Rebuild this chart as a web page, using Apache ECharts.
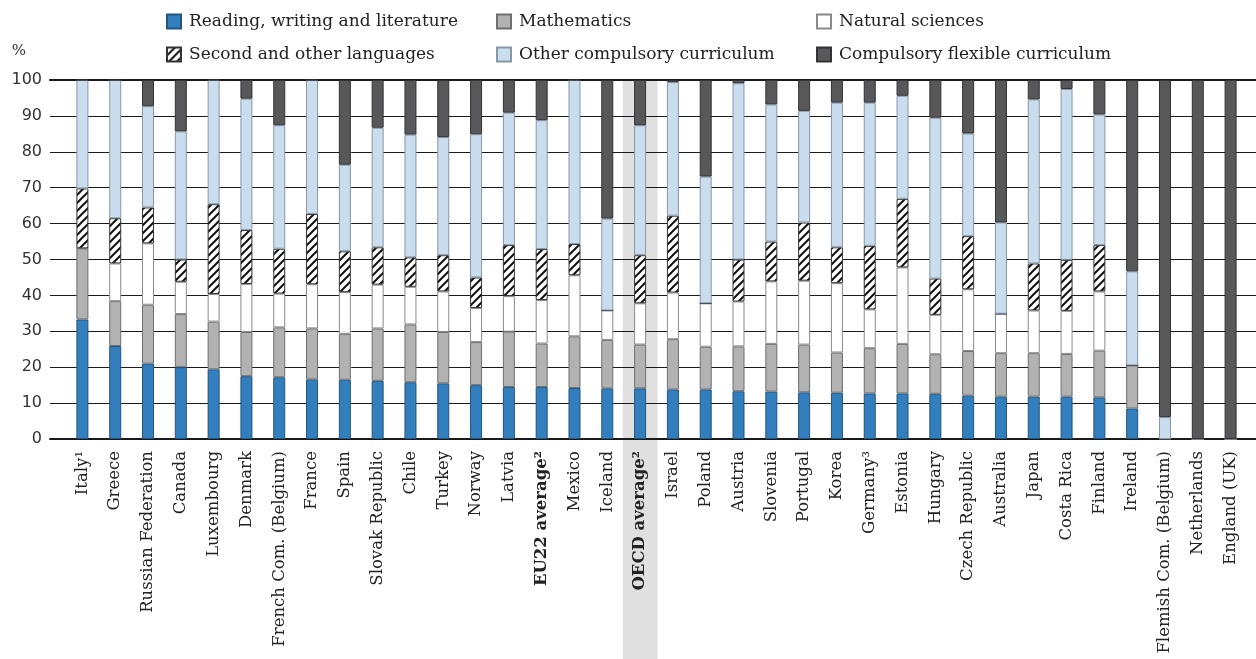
<!DOCTYPE html>
<html>
<head>
<meta charset="utf-8">
<script src="https://cdn.jsdelivr.net/npm/echarts@6/dist/echarts.min.js"></script>
<style>
  html, body { margin: 0; padding: 0; background: #fff; }
  #main { width: 1256px; height: 659px; }
</style>
</head>
<body>
<div id="main"></div>
<script>
// categories, left to right
const countries = [
  'Italy¹', 'Greece', 'Russian Federation', 'Canada', 'Luxembourg', 'Denmark',
  'French Com. (Belgium)', 'France', 'Spain', 'Slovak Republic', 'Chile', 'Turkey',
  'Norway', 'Latvia', 'EU22 average²', 'Mexico', 'Iceland', 'OECD average²',
  'Israel', 'Poland', 'Austria', 'Slovenia', 'Portugal', 'Korea', 'Germany³',
  'Estonia', 'Hungary', 'Czech Republic', 'Australia', 'Japan', 'Costa Rica',
  'Finland', 'Ireland', 'Flemish Com. (Belgium)', 'Netherlands', 'England (UK)'
];
const boldCats = ['EU22 average²', 'OECD average²'];

// shares of instruction time (%)
const reading = [33.3, 25.9, 21.0, 20.0, 19.4, 17.5, 17.2, 16.6, 16.5, 16.2, 15.8, 15.5,
  15.0, 14.5, 14.5, 14.2, 14.1, 14.1, 13.8, 13.8, 13.3, 13.2, 13.0, 12.9, 12.7,
  12.7, 12.6, 12.1, 11.8, 11.8, 11.8, 11.6, 8.5, 0, 0, 0];
const maths = [19.8, 12.5, 16.4, 14.8, 13.3, 12.3, 13.9, 14.2, 12.8, 14.6, 16.1, 14.3,
  12.0, 15.4, 12.1, 14.4, 13.5, 12.2, 14.0, 11.9, 12.5, 13.3, 13.3, 11.2, 12.6,
  13.8, 11.0, 12.4, 12.1, 12.1, 11.9, 13.0, 12.0, 0, 0, 0];
const sciences = [0, 10.5, 17.1, 9.0, 7.7, 13.4, 9.4, 12.3, 11.6, 12.2, 10.5, 11.3,
  9.5, 9.9, 12.1, 17.0, 8.2, 11.5, 13.0, 12.1, 12.5, 17.4, 17.8, 19.3, 10.8,
  21.3, 11.0, 17.2, 11.0, 11.9, 12.0, 16.5, 0, 0, 0, 0];
const languages = [16.7, 12.6, 10.0, 6.2, 25.0, 15.0, 12.5, 19.6, 11.4, 10.4, 8.2, 10.1,
  8.5, 14.2, 14.2, 8.7, 0, 13.4, 21.4, 0, 11.7, 11.1, 16.2, 10.0, 17.7,
  19.1, 10.1, 14.8, 0, 13.1, 14.2, 12.9, 0, 0, 0, 0];
const otherCompulsory = [30.2, 38.5, 28.2, 35.7, 34.6, 36.6, 34.4, 37.3, 24.1, 33.3, 34.2, 32.9,
  39.9, 36.9, 35.9, 45.7, 25.6, 36.2, 37.2, 35.3, 49.1, 38.2, 31.1, 40.3, 39.9,
  28.7, 44.8, 28.6, 25.4, 45.7, 47.6, 36.4, 26.2, 6.1, 0, 0];
const flexible = [0, 0, 7.3, 14.3, 0, 5.2, 12.6, 0, 23.6, 13.3, 15.2, 15.9,
  15.1, 9.1, 11.2, 0, 38.6, 12.6, 0.6, 26.9, 0.9, 6.8, 8.6, 6.3, 6.3,
  4.4, 10.5, 14.9, 39.7, 5.4, 2.5, 9.6, 53.3, 93.9, 100, 100];

const yTicks = [0, 100, 10];

// diagonal hatch for "Second and other languages"
function hatch() {
  const c = document.createElement('canvas');
  c.width = 8; c.height = 8;
  const g = c.getContext('2d');
  g.fillStyle = '#fff';
  g.fillRect(0, 0, 8, 8);
  g.strokeStyle = '#111';
  g.lineWidth = 2;
  g.beginPath();
  g.moveTo(-1, 9); g.lineTo(9, -1);
  g.moveTo(-3, 3); g.lineTo(3, -3);
  g.moveTo(5, 11); g.lineTo(11, 5);
  g.stroke();
  return c;
}

const serif = 'DejaVu Serif';
const defs = [
  { name: 'Reading, writing and literature', data: reading, color: '#337fbe', border: '#22557f' },
  { name: 'Mathematics', data: maths, color: '#b2b2b2', border: '#6f6f6f' },
  { name: 'Natural sciences', data: sciences, color: '#ffffff', border: '#8a8a8a' },
  { name: 'Second and other languages', data: languages, color: { image: hatch(), repeat: 'repeat' }, border: '#333' },
  { name: 'Other compulsory curriculum', data: otherCompulsory, color: '#c9ddee', border: '#8797a8' },
  { name: 'Compulsory flexible curriculum', data: flexible, color: '#58585a', border: '#333' }
];

const chart = echarts.init(document.getElementById('main'));

function legendCol(left, names) {
  return {
    left: left, top: 13, orient: 'vertical', padding: 0,
    itemWidth: 14, itemHeight: 14, itemGap: 16,
    icon: 'rect', selectedMode: false,
    data: names,
    textStyle: { fontFamily: serif, fontSize: 17, color: '#222', padding: [0, 0, 0, 3] }
  };
}

chart.setOption({
  animation: false,
  legend: [
    legendCol(166, [defs[0].name, defs[3].name]),
    legendCol(496, [defs[1].name, defs[4].name]),
    legendCol(816, [defs[2].name, defs[5].name])
  ],
  grid: [
    { left: 50, right: 0, top: 80, bottom: 220 },
    { left: 66, right: 9, top: 80, bottom: 220 }
  ],
  xAxis: [
    { gridIndex: 0, type: 'value', min: 0, max: 1, position: 'bottom',
      axisLine: { show: true, onZero: false, lineStyle: { color: '#1a1a1a', width: 2 } },
      axisTick: { show: false }, axisLabel: { show: false }, splitLine: { show: false } },
    { gridIndex: 0, type: 'value', min: 0, max: 1, position: 'top',
      axisLine: { show: true, onZero: false, lineStyle: { color: '#1a1a1a', width: 2 } },
      axisTick: { show: false }, axisLabel: { show: false }, splitLine: { show: false } },
    { gridIndex: 1, type: 'category', data: countries,
      axisLine: { show: false }, axisTick: { show: false },
      axisLabel: {
        rotate: 90, interval: 0, margin: 12,
        fontFamily: serif, fontSize: 16.5, color: '#222',
        formatter: v => boldCats.includes(v) ? '{b|' + v + '}' : v,
        rich: { b: { fontFamily: serif, fontSize: 16.5, fontWeight: 'bold', color: '#222' } }
      } }
  ],
  yAxis: [
    { gridIndex: 0, type: 'value', min: yTicks[0], max: yTicks[1], interval: yTicks[2],
      name: '%', nameLocation: 'end', nameGap: 21,
      nameTextStyle: { fontFamily: serif, fontSize: 15, color: '#333', align: 'right', padding: [0, 24, 0, 0] },
      axisLine: { show: false }, axisTick: { show: false },
      axisLabel: { margin: 8, fontFamily: 'DejaVu Sans', fontSize: 16, color: '#333' },
      splitLine: { lineStyle: { color: '#1a1a1a', width: 1 } } },
    { gridIndex: 1, type: 'value', min: 0, max: 100, show: false, splitLine: { show: false } }
  ],
  series: defs.map(d => ({
    name: d.name, type: 'bar', stack: 'total',
    xAxisIndex: 2, yAxisIndex: 1,
    barWidth: 12,
    data: d.data,
    itemStyle: { color: d.color, borderColor: d.border, borderWidth: 1 },
    emphasis: { disabled: true }
  }))
});

// grey band behind the OECD average column
const oecd = countries.indexOf('OECD average²');
const cx = chart.convertToPixel({ xAxisIndex: 2 }, countries[oecd]);
const bw = chart.convertToPixel({ xAxisIndex: 2 }, countries[oecd + 1]) - cx;
const yTop = chart.convertToPixel({ yAxisIndex: 1 }, 100);
chart.setOption({
  graphic: [{
    type: 'rect', z: -10, silent: true,
    shape: { x: cx - (bw + 2) / 2, y: yTop, width: bw + 2, height: 659 - yTop },
    style: { fill: '#e0e0e0' }
  }]
});
</script>
</body>
</html>
